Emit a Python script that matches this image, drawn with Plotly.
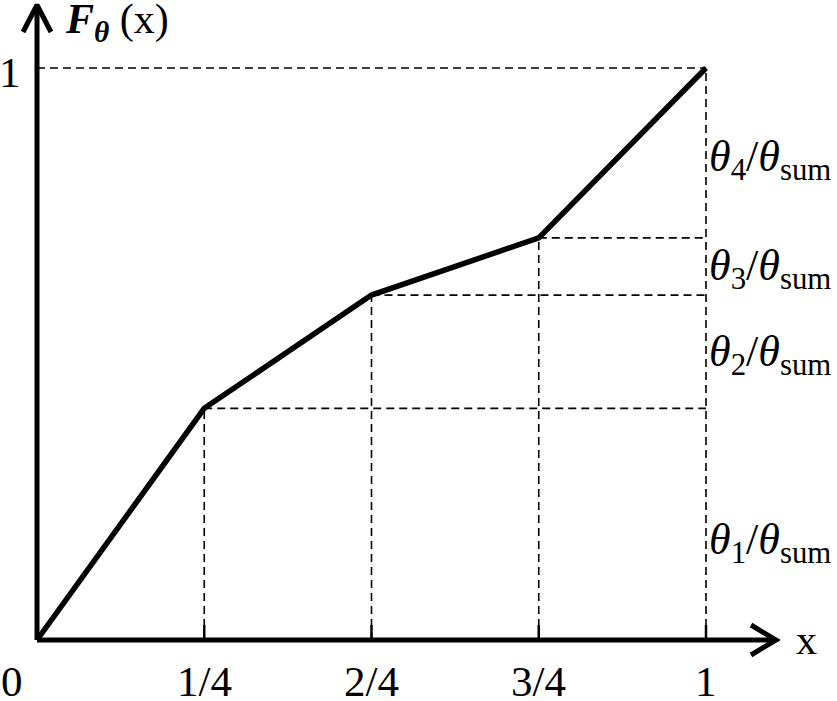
import plotly.graph_objects as go

# knots of the piecewise linear CDF
x_knots = [0, 0.25, 0.5, 0.75, 1]
F_vals = [0, 0.405, 0.603, 0.703, 1]
x_tick_labels = ["0", "1/4", "2/4", "3/4", "1"]
theta_labels = [
    "<i>θ</i><sub>1</sub>/<i>θ</i><sub>sum</sub>",
    "<i>θ</i><sub>2</sub>/<i>θ</i><sub>sum</sub>",
    "<i>θ</i><sub>3</sub>/<i>θ</i><sub>sum</sub>",
    "<i>θ</i><sub>4</sub>/<i>θ</i><sub>sum</sub>",
]
theta_label_y = [0.17, 0.50, 0.65, 0.84]

W, H = 837, 701
# pixel scale: x=0 at px 37, x=1 at px 706; y=0 at px 640, y=1 at px 68
x0px, x1px, y0px, y1px = 37, 706, 640, 68
sx = x1px - x0px
sy = y0px - y1px
xr = [-x0px / sx, (W - x0px) / sx]
yr = [-(H - y0px) / sy, y0px / sy]


def px(x):
    return (x - x0px) / sx


def py(y):
    return (y0px - y) / sy


FONT = "Liberation Serif"
dash_style = dict(color="black", width=1.6, dash="8px,5px")

fig = go.Figure()

# dashed guides
for xk, fk in zip(x_knots[1:-1], F_vals[1:-1]):
    fig.add_trace(go.Scatter(x=[xk, xk], y=[0, fk], mode="lines", line=dash_style))
    fig.add_trace(go.Scatter(x=[xk, 1], y=[fk, fk], mode="lines", line=dash_style))
fig.add_trace(go.Scatter(x=[0, 1], y=[1, 1], mode="lines", line=dash_style))
fig.add_trace(go.Scatter(x=[1, 1], y=[0, 1], mode="lines", line=dash_style))

# small solid ticks on the x axis
tick_h = 15 / sy
for xk in x_knots[1:]:
    fig.add_trace(go.Scatter(x=[xk, xk], y=[0, tick_h], mode="lines",
                             line=dict(color="black", width=2.5)))

# axes with open arrow heads
y_tip = py(5)
x_tip = px(776)
axis_line = dict(color="black", width=5)
fig.add_trace(go.Scatter(x=[0, 0], y=[0, y_tip], mode="lines", line=axis_line))
fig.add_trace(go.Scatter(x=[0, x_tip], y=[0, 0], mode="lines", line=axis_line))
fig.add_trace(go.Scatter(x=[-14 / sx, 0, 14 / sx], y=[y_tip - 27 / sy, y_tip, y_tip - 27 / sy],
                         mode="lines", line=axis_line))
fig.add_trace(go.Scatter(x=[x_tip - 25 / sx, x_tip, x_tip - 25 / sx], y=[15 / sy, 0, -15 / sy],
                         mode="lines", line=axis_line))

# the CDF
fig.add_trace(go.Scatter(x=x_knots, y=F_vals, mode="lines",
                         line=dict(color="black", width=5.5)))

ann = []
for xk, lab in zip(x_knots, x_tick_labels):
    xpos = xk if xk > 0 else px(12)
    ann.append(dict(x=xpos, y=py(681), text=lab, showarrow=False,
                    font=dict(family=FONT, size=43, color="black")))
ann.append(dict(x=px(10), y=py(72), text="1", showarrow=False,
                font=dict(family=FONT, size=43, color="black")))
ann.append(dict(x=px(806), y=py(640), text="x", showarrow=False,
                font=dict(family=FONT, size=42, color="black")))
ann.append(dict(x=px(63), y=py(22), text="<b><i>F<sub>θ</sub></i></b> (x)",
                showarrow=False, xanchor="left",
                font=dict(family=FONT, size=42, color="black")))
for lab, ly in zip(theta_labels, theta_label_y):
    ann.append(dict(x=1 + 1 / sx, y=ly, text=lab, showarrow=False, xanchor="left",
                    font=dict(family=FONT, size=44, color="black")))

fig.update_layout(
    width=W, height=H, margin=dict(l=0, r=0, t=0, b=0),
    plot_bgcolor="white", paper_bgcolor="white", showlegend=False,
    xaxis=dict(range=xr, visible=False, fixedrange=True),
    yaxis=dict(range=yr, visible=False, fixedrange=True),
    annotations=ann,
)

fig.write_html("out.html", config={"displayModeBar": False},
               post_script="document.body.style.margin='0';")
